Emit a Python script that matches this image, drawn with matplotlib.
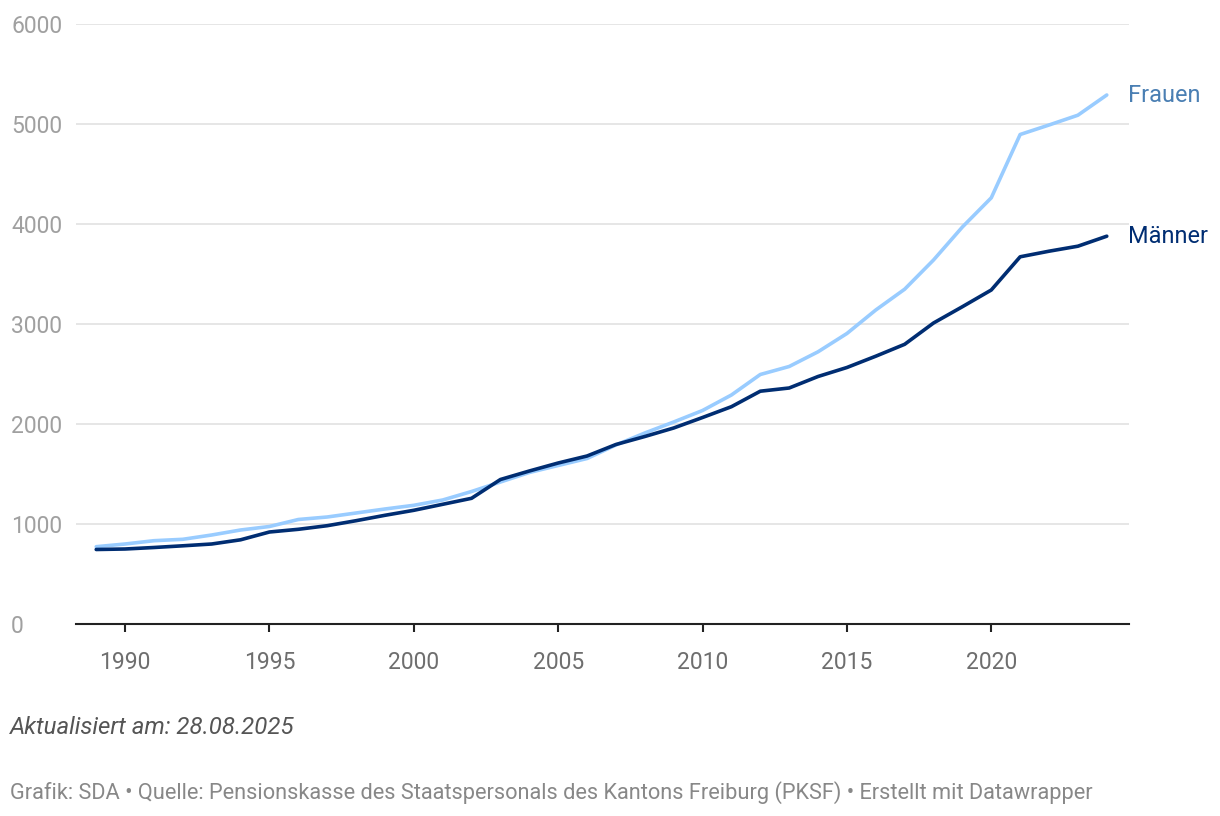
import matplotlib
matplotlib.use("Agg")
import matplotlib.pyplot as plt

years = list(range(1989, 2025))
frauen = [773, 800, 833, 847, 890, 940, 975, 1045, 1070, 1110, 1150, 1187, 1240, 1325,
          1420, 1515, 1585, 1655, 1790, 1910, 2020, 2135, 2290, 2495, 2575, 2722, 2905,
          3140, 3348, 3640, 3970, 4262, 4895, 4990, 5088, 5290]
maenner = [745, 750, 765, 782, 800, 842, 920, 947, 983, 1033, 1087, 1137, 1197, 1257,
           1445, 1530, 1610, 1680, 1795, 1875, 1960, 2065, 2173, 2328, 2360, 2475, 2565,
           2678, 2797, 3010, 3173, 3340, 3672, 3728, 3778, 3878]
yticks = [0, 1000, 2000, 3000, 4000, 5000, 6000]
xticks = [1990, 1995, 2000, 2005, 2010, 2015, 2020]

plt.rcParams['font.family'] = ['Roboto', 'DejaVu Sans']

fig = plt.figure(figsize=(12.2, 8.16), dpi=100)
ax = fig.add_axes([76/1220, 1-624/816, (1129-76)/1220, 600/816])

c_f = '#99ccff'
c_m = '#002d72'
ax.plot(years, frauen, color=c_f, lw=2.6, solid_capstyle='round', zorder=3)
ax.plot(years, maenner, color=c_m, lw=2.6, solid_capstyle='round', zorder=4)

ax.set_xlim(1988.3, 2024.77)
ax.set_ylim(0, 6000)
ax.set_yticks(yticks)
ax.set_xticks(xticks)
ax.grid(axis='y', color='#e2e2e2', lw=1.2)
ax.set_axisbelow(True)
for s in ['top', 'right', 'left']:
    ax.spines[s].set_visible(False)
ax.spines['bottom'].set_color('#222222')
ax.spines['bottom'].set_linewidth(1.5)
ax.spines['bottom'].set_zorder(5)
ax.tick_params(axis='x', length=6, width=1.5, color='#222222', labelsize=16.5,
               labelcolor='#6e6e6e', pad=13.5)
ax.tick_params(axis='y', length=0, labelsize=16.5, labelcolor='#a0a0a0')
for lbl in ax.get_yticklabels():
    lbl.set_horizontalalignment('left')
ax.yaxis.set_tick_params(pad=(76-11)*0.72)

ax.text(1128/1220, 1-96/816, 'Frauen', transform=fig.transFigure, color='#4a7fb3',
        fontsize=16.9, va='center', ha='left')
ax.text(1128/1220, 1-236/816, 'Männer', transform=fig.transFigure, color=c_m,
        fontsize=16.9, va='center', ha='left')

fig.text(10/1220, 1-728/816, 'Aktualisiert am: 28.08.2025', fontsize=17.3, style='italic',
         color='#555555', va='center', ha='left')
fig.text(10/1220, 1-793/816,
         'Grafik: SDA • Quelle: Pensionskasse des Staatspersonals des Kantons Freiburg (PKSF) • Erstellt mit Datawrapper',
         fontsize=15.7, color='#888888', va='center', ha='left')

fig.savefig('out.png', dpi=100)
